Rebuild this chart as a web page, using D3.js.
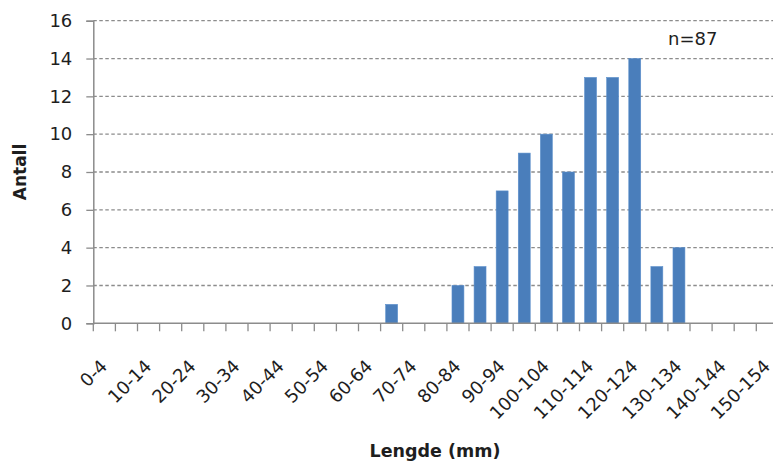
<!DOCTYPE html>
<html>
<head>
<meta charset="utf-8">
<script src="https://cdn.jsdelivr.net/npm/d3@7"></script>
<style>
  html, body { margin: 0; padding: 0; background: #fff; }
  svg { display: block; }
  text { font-family: "DejaVu Sans", sans-serif; fill: #1e1e1e; }
</style>
</head>
<body>
<svg id="chart" width="773" height="461"></svg>
<script>
// Length classes (mm), 5 mm wide
const categories = [
  "0-4", "5-9", "10-14", "15-19", "20-24", "25-29", "30-34", "35-39",
  "40-44", "45-49", "50-54", "55-59", "60-64", "65-69", "70-74", "75-79",
  "80-84", "85-89", "90-94", "95-99", "100-104", "105-109", "110-114", "115-119",
  "120-124", "125-129", "130-134", "135-139", "140-144", "145-149", "150-154"
];
// Number of fish per length class
const counts = [
  0, 0, 0, 0, 0, 0, 0, 0,
  0, 0, 0, 0, 0, 1, 0, 0,
  2, 3, 7, 9, 10, 8, 13, 13,
  14, 3, 4, 0, 0, 0, 0
];
// Every second class gets a label on the axis
const labeledCategories = categories.filter((d, i) => i % 2 === 0);
const yTicks = [0, 2, 4, 6, 8, 10, 12, 14, 16];
const sampleNote = "n=87";
const xTitle = "Lengde (mm)";
const yTitle = "Antall";

const svg = d3.select("#chart");
const plotLeft = 93.3, plotRight = 778.4, plotTop = 20.7, plotBottom = 323.3;

const x = d3.scaleBand().domain(categories).range([plotLeft, plotRight])
  .paddingInner(0.46).paddingOuter(0.23);
const y = d3.scaleLinear().domain([0, 16]).range([plotBottom, plotTop]);
const step = x.step();
const boundary = c => x(c) - step * x.paddingInner() / 2;

// Dashed horizontal gridlines
svg.append("g").selectAll("line").data(yTicks.filter(v => v > 0)).join("line")
  .attr("x1", plotLeft).attr("x2", 773)
  .attr("y1", d => y(d)).attr("y2", d => y(d))
  .attr("stroke", "#8c8c8c").attr("stroke-width", 1.3)
  .attr("stroke-dasharray", "3.5,2.5");

// Y axis
const yAxis = svg.append("g").attr("transform", `translate(${plotLeft},0)`)
  .call(d3.axisLeft(y).tickValues(yTicks).tickSize(7).tickPadding(14));
yAxis.select(".domain").attr("stroke", "#8c8c8c").attr("stroke-width", 1.5);
yAxis.selectAll(".tick line").attr("stroke", "#8c8c8c").attr("stroke-width", 1.3);
yAxis.selectAll(".tick text").style("font-size", "18px").attr("fill", "#1e1e1e")
  .style("font-family", "'DejaVu Sans', sans-serif");

// Bars
svg.append("g").selectAll("rect").data(categories).join("rect")
  .attr("x", d => x(d))
  .attr("width", x.bandwidth())
  .attr("y", (d, i) => y(counts[i]))
  .attr("height", (d, i) => y(0) - y(counts[i]))
  .attr("fill", "#4a7ebb")
  .attr("stroke", "#5b8fcc").attr("stroke-width", 0.6);

// X axis line and tick marks at class boundaries
svg.append("line").attr("x1", plotLeft).attr("x2", 773)
  .attr("y1", plotBottom).attr("y2", plotBottom)
  .attr("stroke", "#8c8c8c").attr("stroke-width", 1.5);
svg.append("g").selectAll("line").data(categories).join("line")
  .attr("x1", d => boundary(d)).attr("x2", d => boundary(d))
  .attr("y1", plotBottom).attr("y2", plotBottom + 8)
  .attr("stroke", "#8c8c8c").attr("stroke-width", 1.3);

// Rotated class labels
svg.append("g").selectAll("text").data(labeledCategories).join("text")
  .attr("transform", d => `translate(${x(d) + x.bandwidth() / 2 + 4},${plotBottom + 44}) rotate(-45)`)
  .attr("text-anchor", "end")
  .style("font-size", "18px")
  .text(d => d);

// Axis titles and sample size
svg.append("text")
  .attr("transform", `translate(26,${(plotTop + plotBottom) / 2}) rotate(-90)`)
  .attr("text-anchor", "middle")
  .style("font-size", "17px").style("font-weight", "bold")
  .text(yTitle);

svg.append("text")
  .attr("x", 435).attr("y", 457)
  .attr("text-anchor", "middle")
  .style("font-size", "17.5px").style("font-weight", "bold")
  .text(xTitle);

svg.append("text")
  .attr("x", 668).attr("y", 45)
  .style("font-size", "18px")
  .text(sampleNote);
</script>
</body>
</html>
